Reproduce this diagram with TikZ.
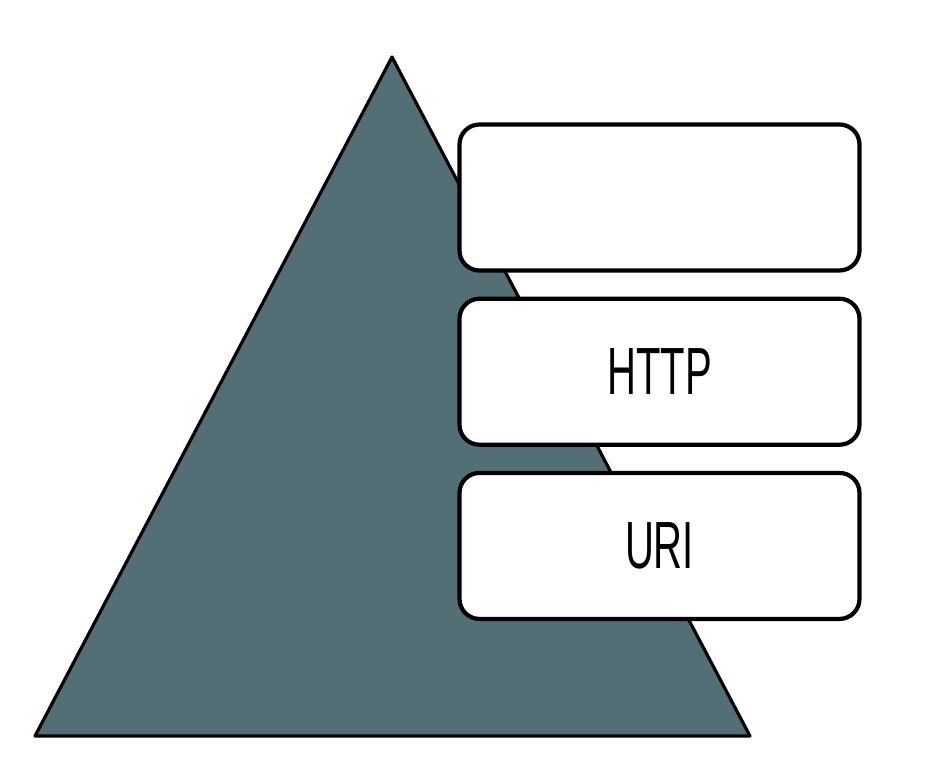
\documentclass[tikz,border=0pt]{standalone}
\usepackage{fontspec}
\newfontfamily\layerfont[FakeStretch=0.6]{Liberation Sans}
\usepackage{tikz}
\usetikzlibrary{positioning}
\definecolor{pyramidgray}{RGB}{84,110,118}
\tikzset{
  layerbox/.style={rectangle, draw=black, fill=white, line width=2.4pt,
    minimum width=8.0cm, minimum height=2.92cm, rounded corners=0.4cm,
    align=center, font=\layerfont\fontsize{38}{40}\selectfont},
  pyramid/.style={draw=black, fill=pyramidgray, line width=1.8pt, line join=round},
}
\begin{document}
\begin{tikzpicture}[node distance=0.48cm]
  \useasboundingbox (0,0) rectangle (18.9,15.4);
  % pyramid behind the layers
  \draw[pyramid] (7.84,14.26) -- (15.0,0.68) -- (0.7,0.68) -- cycle;

  \node[layerbox] (top) at (13.19,11.45) {};
  \node[layerbox, below=of top] (http) {HTTP};
  \node[layerbox, below=of http] (uri) {URI};
\end{tikzpicture}
\end{document}
